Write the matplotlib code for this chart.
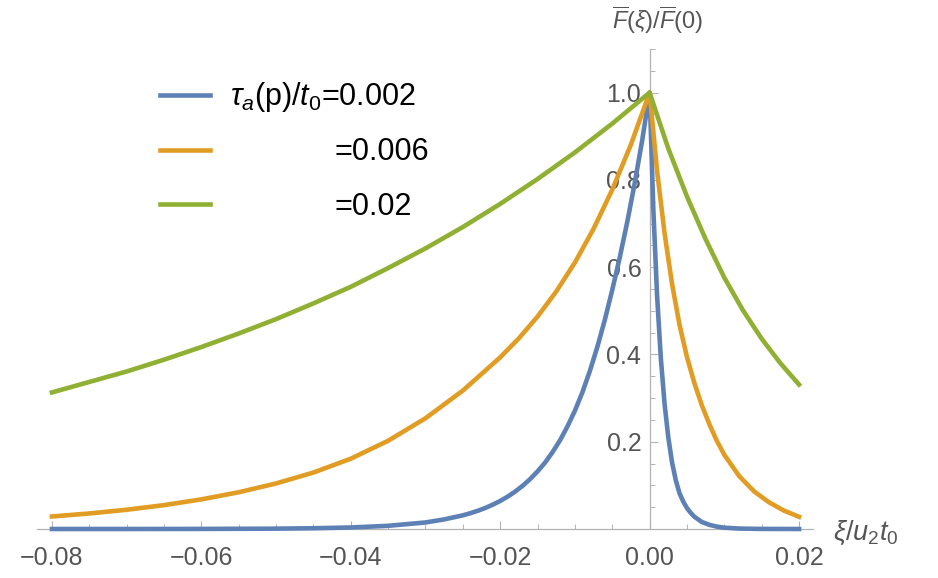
import matplotlib
matplotlib.use("Agg")
import matplotlib.pyplot as plt
from matplotlib.ticker import MultipleLocator, FixedLocator, FuncFormatter
from matplotlib.lines import Line2D

plt.rcParams['font.family'] = ['Liberation Sans', 'DejaVu Sans']
plt.rcParams['mathtext.fontset'] = 'custom'
plt.rcParams['mathtext.rm'] = 'Liberation Sans'
plt.rcParams['mathtext.it'] = 'Liberation Sans:italic'
plt.rcParams['mathtext.bf'] = 'Liberation Sans:bold'

# ---- data ----
blue_x = [-0.08, -0.07, -0.06, -0.05, -0.045, -0.04, -0.035, -0.03, -0.0275, -0.025,
          -0.024, -0.023, -0.022, -0.021, -0.02, -0.019, -0.018, -0.017, -0.016,
          -0.015, -0.014, -0.013, -0.012, -0.011, -0.010,
          -0.009, -0.008, -0.007, -0.006, -0.005, -0.004, -0.003, -0.002, -0.001, 0.0,
          0.0005, 0.001, 0.0015, 0.002, 0.0025, 0.003, 0.0035, 0.004, 0.0045, 0.005,
          0.0055, 0.006, 0.007, 0.008, 0.009, 0.010, 0.012, 0.015, 0.02]
blue_y = [0.0, 0.0, 0.0002, 0.0008, 0.0017, 0.0035, 0.0073, 0.015, 0.022, 0.0313,
          0.0362, 0.0418, 0.0482, 0.0557, 0.0643, 0.0742, 0.0857, 0.099, 0.1143,
          0.132, 0.152, 0.176, 0.203, 0.235, 0.271,
          0.313, 0.362, 0.417, 0.479, 0.548, 0.622, 0.703, 0.792, 0.89, 1.0,
          0.732, 0.535, 0.392, 0.287, 0.21, 0.153, 0.112, 0.082, 0.063, 0.048,
          0.037, 0.028, 0.016, 0.0095, 0.0055, 0.003, 0.001, 0.0002, 0.0]

orange_x = [-0.08, -0.075, -0.07, -0.065, -0.06, -0.055, -0.05, -0.045, -0.04, -0.035,
            -0.03, -0.025, -0.02, -0.0175, -0.015, -0.0125, -0.01, -0.0075, -0.005,
            -0.0025, 0.0,
            0.001, 0.002, 0.003, 0.004, 0.005, 0.006, 0.007, 0.008, 0.009, 0.010,
            0.012, 0.014, 0.016, 0.018, 0.020]
orange_y = [0.0287, 0.0356, 0.0441, 0.0547, 0.0679, 0.0842, 0.1044, 0.1294, 0.1611, 0.2022,
            0.2538, 0.3172, 0.3933, 0.437, 0.4868, 0.5442, 0.6106, 0.688, 0.7776,
            0.881, 1.0,
            0.82, 0.678, 0.562, 0.468, 0.394, 0.334, 0.283, 0.240, 0.202, 0.170,
            0.121, 0.086, 0.061, 0.042, 0.028]

green_x = [-0.08, -0.075, -0.07, -0.065, -0.06, -0.055, -0.05, -0.045, -0.04, -0.035,
           -0.03, -0.025, -0.02, -0.015, -0.01, -0.005, 0.0,
           0.0025, 0.005, 0.0075, 0.01, 0.0125, 0.015, 0.0175, 0.02]
green_y = [0.313, 0.337, 0.361, 0.388, 0.417, 0.448, 0.481, 0.517, 0.555, 0.598,
           0.643, 0.692, 0.745, 0.802, 0.863, 0.929, 1.0,
           0.872, 0.762, 0.664, 0.576, 0.501, 0.436, 0.380, 0.331]

series_colors = ['#5E81B5', '#E19C24', '#8FB032']
legend_labels = [r'$\tau_a$(p)/$t_0$=0.002', '=0.006', '=0.02']
x_major = [-0.08, -0.06, -0.04, -0.02, 0.0, 0.02]
y_major = [0.2, 0.4, 0.6, 0.8, 1.0]

W, H = 938, 578
fig = plt.figure(figsize=(W / 100, H / 100), dpi=100)
ax = fig.add_axes([37 / W, 49 / H, 776 / W, 480 / H])

LW = 3.3
for xs, ys, c in zip([blue_x, orange_x, green_x], [blue_y, orange_y, green_y], series_colors):
    ax.plot(xs, ys, color=c, lw=LW, clip_on=False, zorder=3)

ax.set_xlim(-0.0820, 0.02187)
ax.set_ylim(0, 1.1)

axis_col = '#b3b3b3'
lab_col = '#555555'
for s in ['top', 'right']:
    ax.spines[s].set_visible(False)
ax.spines['left'].set_position(('data', 0))
ax.spines['bottom'].set_position(('data', 0))
for s in ['left', 'bottom']:
    ax.spines[s].set_color(axis_col)
    ax.spines[s].set_linewidth(0.9)
    ax.spines[s].set_zorder(1)

ax.xaxis.set_major_locator(FixedLocator(x_major))
ax.xaxis.set_minor_locator(MultipleLocator(0.005))
ax.yaxis.set_major_locator(FixedLocator(y_major))
ax.yaxis.set_minor_locator(MultipleLocator(0.05))
ax.xaxis.set_major_formatter(FuncFormatter(
    lambda v, p: f"{v:.2f}".replace('-', '\u2212') if abs(v) > 1e-12 else "0.00"))
ax.yaxis.set_major_formatter(FuncFormatter(lambda v, p: f"{v:.1f}"))

ax.tick_params(axis='x', which='major', direction='in', length=5.8, width=0.8, color=axis_col,
               labelsize=18, labelcolor=lab_col, pad=12)
ax.tick_params(axis='x', which='minor', direction='in', length=3.6, width=0.7, color=axis_col)
ax.tick_params(axis='y', which='major', direction='in', length=5.8, width=0.8, color=axis_col,
               labelsize=18, labelcolor=lab_col, pad=6)
ax.tick_params(axis='y', which='minor', direction='in', length=3.6, width=0.7, color=axis_col)

# axis labels
fig.text(833 / W, 1 - 533 / H, r'$\xi/u_2t_0$', fontsize=19.5, color=lab_col, ha='left', va='center')
fig.text(658 / W, 1 - 20 / H, r'$\overline{F}(\xi)/\overline{F}(0)$', fontsize=17, color=lab_col,
         ha='center', va='center')

# legend
row_y = [95, 149.5, 204]
text_x = [230, 334, 334]
for c, lab, ry, tx in zip(series_colors, legend_labels, row_y, text_x):
    fig.add_artist(Line2D([160 / W, 210 / W], [1 - ry / H, 1 - ry / H], color=c, lw=LW,
                          transform=fig.transFigure))
    fig.text(tx / W, 1 - (ry + 10.5) / H, lab, fontsize=22, color='black', ha='left', va='baseline')

fig.savefig('out.png', dpi=100)
